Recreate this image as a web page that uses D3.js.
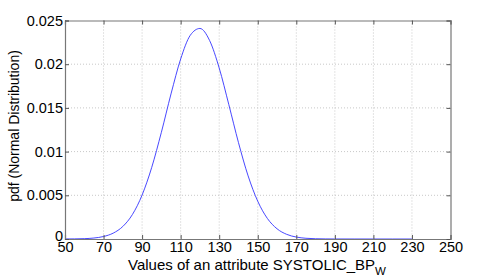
<!DOCTYPE html>
<html><head><meta charset="utf-8">
<script src="https://cdn.jsdelivr.net/npm/d3@7"></script>
<style>
body{margin:0;background:#fff;}
text{font-family:"Liberation Sans",Arial,Helvetica,sans-serif;}
</style></head>
<body><svg id="c" width="498" height="279"></svg>
<script>
const xValues = [50,55,60,65,70,75,80,85,90,95,100,105,110,115,120,125,130,135,140,145,150,155,160,165,170,175,180,185,190,200,210,220,230];
const pdfValues = [0.0000037,0.0000127,0.000039,0.000111,0.000285,0.00067,0.001435,0.00281,0.00503,0.0082,0.01221,0.0166,0.02059,0.02331,0.02409,0.02272,0.01956,0.01537,0.01103,0.00722,0.00432,0.00235,0.00117,0.000533,0.000221,0.000084,0.000029,0.0000091,0.0000026,0.0000002,0,0,0];
const xTicks = [50,70,90,110,130,150,170,190,210,230,250];
const yTicks = [0,0.005,0.01,0.015,0.02,0.025];
const yTickLabels = ["0","0.005","0.01","0.015","0.02","0.025"];

const svg = d3.select("#c");
const L=65, R=450.5, T=20.5, B=239;
const x = d3.scaleLinear().domain([50,250]).range([L,R]);
const y = d3.scaleLinear().domain([0,0.025]).range([B,T]);

const g = svg.append("g");
// grid
g.selectAll(".vg").data(xTicks.slice(1,-1)).enter().append("line")
 .attr("x1",d=>x(d)).attr("x2",d=>x(d)).attr("y1",T).attr("y2",B)
 .attr("stroke","#c8c8c8").attr("stroke-width",1).attr("stroke-dasharray","1,2");
g.selectAll(".hg").data(yTicks.slice(1,-1)).enter().append("line")
 .attr("y1",d=>y(d)).attr("y2",d=>y(d)).attr("x1",L).attr("x2",R)
 .attr("stroke","#c8c8c8").attr("stroke-width",1).attr("stroke-dasharray","1,2");

// curve
const line = d3.line().x((d,i)=>x(xValues[i])).y(d=>y(d)).curve(d3.curveMonotoneX);
g.append("path").datum(pdfValues).attr("d",line).attr("fill","none").attr("stroke","#3333ff").attr("stroke-width",0.9);

// axes
const fs = "14.5px";
const xb = d3.axisBottom(x).tickValues(xTicks).tickSize(-4).tickPadding(3).tickFormat(d3.format("d"));
const xt = d3.axisTop(x).tickValues(xTicks).tickSize(-4).tickFormat("");
const yl = d3.axisLeft(y).tickValues(yTicks).tickSize(-4).tickPadding(2).tickFormat((d,i)=>yTickLabels[i]);
const yr = d3.axisRight(y).tickValues(yTicks).tickSize(-4).tickFormat("");
function style(sel){
  sel.select(".domain").attr("stroke","#777").attr("stroke-width",1.2);
  sel.selectAll(".tick line").attr("stroke","#555");
  sel.selectAll("text").attr("fill","#000").style("font-size",fs).attr("font-family",null);
}
g.append("g").attr("transform",`translate(0,${B})`).call(xb).call(style).call(s=>s.selectAll("text").attr("dy","0.72em"));
g.append("g").attr("transform",`translate(0,${T})`).call(xt).call(style);
g.append("g").attr("transform",`translate(${L},0)`).call(yl).call(style).call(s=>s.selectAll(".tick").filter(d=>d===0).select("text").attr("dy","0.1em"));
g.append("g").attr("transform",`translate(${R},0)`).call(yr).call(style);

// labels
const xl = svg.append("text").attr("x",257).attr("y",270).attr("text-anchor","middle").style("font-size","15px").attr("fill","#000");
xl.append("tspan").text("Values of an attribute SYSTOLIC_BP");
xl.append("tspan").attr("dy",5).style("font-size","11.5px").text("W");
svg.append("text").attr("transform","translate(19,126) rotate(-90)").attr("text-anchor","middle").style("font-size","14px").attr("fill","#000").text("pdf (Normal Distribution)");
</script></body></html>
